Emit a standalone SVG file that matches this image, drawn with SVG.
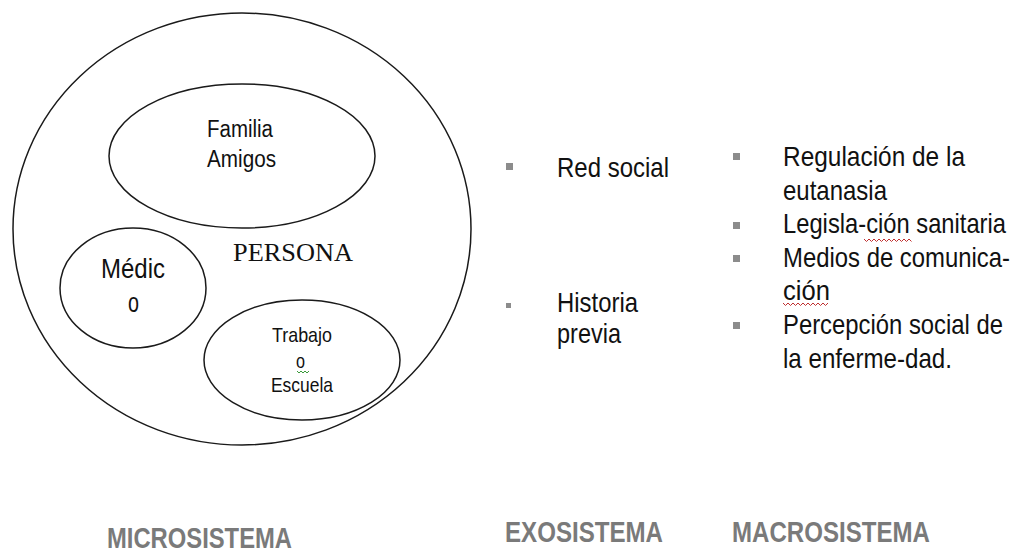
<svg xmlns="http://www.w3.org/2000/svg" width="1016" height="552" viewBox="0 0 1016 552">
<style>
.sh{fill:none;stroke:#1a1a1a;stroke-width:1.5}
.t{font-family:"Liberation Sans",Arial,sans-serif;fill:#111}
.s{font-family:"Liberation Serif","Times New Roman",serif;fill:#111}
.lbl{font-family:"Liberation Sans",Arial,sans-serif;font-weight:bold;fill:#7a7a7a;font-size:29px}
.b{fill:#8c8c8c}
.rt{font-family:"Liberation Sans",Arial,sans-serif;fill:#111;font-size:24px}
.sq{fill:none;stroke-width:1}
</style>
<rect width="1016" height="552" fill="#fff"/>
<g id="microsistema">
<ellipse class="sh" cx="242" cy="229" rx="229" ry="216"/>
<text class="s" x="233" y="261" font-size="26" textLength="120" lengthAdjust="spacingAndGlyphs">PERSONA</text>
</g>
<g id="familia">
<ellipse class="sh" cx="242" cy="156" rx="133" ry="72"/>
<text class="t" x="207" y="137" font-size="23" textLength="66" lengthAdjust="spacingAndGlyphs">Familia</text>
<text class="t" x="207" y="167" font-size="23" textLength="69" lengthAdjust="spacingAndGlyphs">Amigos</text>
</g>
<g id="medico">
<ellipse class="sh" cx="133" cy="288" rx="73" ry="60"/>
<text class="t" x="101" y="278" font-size="27" textLength="64" lengthAdjust="spacingAndGlyphs">Médic</text>
<text class="t" x="128" y="312" font-size="27" textLength="11" lengthAdjust="spacingAndGlyphs">o</text>
</g>
<g id="trabajo">
<ellipse class="sh" cx="302" cy="360" rx="98" ry="60"/>
<text class="t" x="272" y="342" font-size="21" textLength="60" lengthAdjust="spacingAndGlyphs">Trabajo</text>
<text class="t" x="296" y="368" font-size="21" textLength="9" lengthAdjust="spacingAndGlyphs">o</text>
<path class="sq" stroke="#3a9a3a" d="M297,371 l2,2 l2,-2 l2,2 l2,-2 l2,2 l2,-2"/>
<text class="t" x="271" y="392" font-size="21" textLength="62" lengthAdjust="spacingAndGlyphs">Escuela</text>
</g>
<g id="exosistema">
<rect class="b" x="506" y="163" width="7" height="7"/>
<text class="rt" transform="translate(557,177) scale(1,1.17)" textLength="112" lengthAdjust="spacingAndGlyphs">Red social</text>
<rect class="b" x="506" y="303" width="5" height="5"/>
<text class="rt" transform="translate(557,312) scale(1,1.17)" textLength="81" lengthAdjust="spacingAndGlyphs">Historia</text>
<text class="rt" transform="translate(557,343) scale(1,1.17)" textLength="64" lengthAdjust="spacingAndGlyphs">previa</text>
</g>
<g id="macrosistema">
<rect class="b" x="733" y="153" width="7" height="7"/>
<text class="rt" transform="translate(783,166) scale(1,1.17)" textLength="182" lengthAdjust="spacingAndGlyphs">Regulación de la</text>
<text class="rt" transform="translate(783,200) scale(1,1.17)" textLength="104" lengthAdjust="spacingAndGlyphs">eutanasia</text>
<rect class="b" x="733" y="222" width="7" height="7"/>
<text class="rt" transform="translate(783,233) scale(1,1.17)" textLength="223" lengthAdjust="spacingAndGlyphs">Legisla-ción sanitaria</text>
<path class="sq" stroke="#c03030" d="M864,239 l2.5,2.5 l2.5,-2.5 l2.5,2.5 l2.5,-2.5 l2.5,2.5 l2.5,-2.5 l2.5,2.5 l2.5,-2.5 l2.5,2.5 l2.5,-2.5 l2.5,2.5 l2.5,-2.5 l2.5,2.5 l2.5,-2.5 l2.5,2.5 l2.5,-2.5 l2.5,2.5 l2.5,-2.5 l2.5,2.5"/>
<rect class="b" x="733" y="255" width="7" height="7"/>
<text class="rt" transform="translate(783,267) scale(1,1.17)" textLength="227" lengthAdjust="spacingAndGlyphs">Medios de comunica-</text>
<text class="rt" transform="translate(783,300) scale(1,1.17)" textLength="47" lengthAdjust="spacingAndGlyphs">ción</text>
<path class="sq" stroke="#c03030" d="M783,303 l2.5,2.5 l2.5,-2.5 l2.5,2.5 l2.5,-2.5 l2.5,2.5 l2.5,-2.5 l2.5,2.5 l2.5,-2.5 l2.5,2.5 l2.5,-2.5 l2.5,2.5 l2.5,-2.5 l2.5,2.5 l2.5,-2.5 l2.5,2.5 l2.5,-2.5 l2.5,2.5 l2.5,-2.5"/>
<rect class="b" x="733" y="322" width="7" height="7"/>
<text class="rt" transform="translate(783,334) scale(1,1.17)" textLength="220" lengthAdjust="spacingAndGlyphs">Percepción social de</text>
<text class="rt" transform="translate(783,368) scale(1,1.17)" textLength="169" lengthAdjust="spacingAndGlyphs">la enferme-dad.</text>
</g>
<g id="labels">
<text class="lbl" x="107" y="548" textLength="185" lengthAdjust="spacingAndGlyphs">MICROSISTEMA</text>
<text class="lbl" x="505" y="542" textLength="158" lengthAdjust="spacingAndGlyphs">EXOSISTEMA</text>
<text class="lbl" x="732" y="542" textLength="198" lengthAdjust="spacingAndGlyphs">MACROSISTEMA</text>
</g>
<g id="connectors"></g>
</svg>
